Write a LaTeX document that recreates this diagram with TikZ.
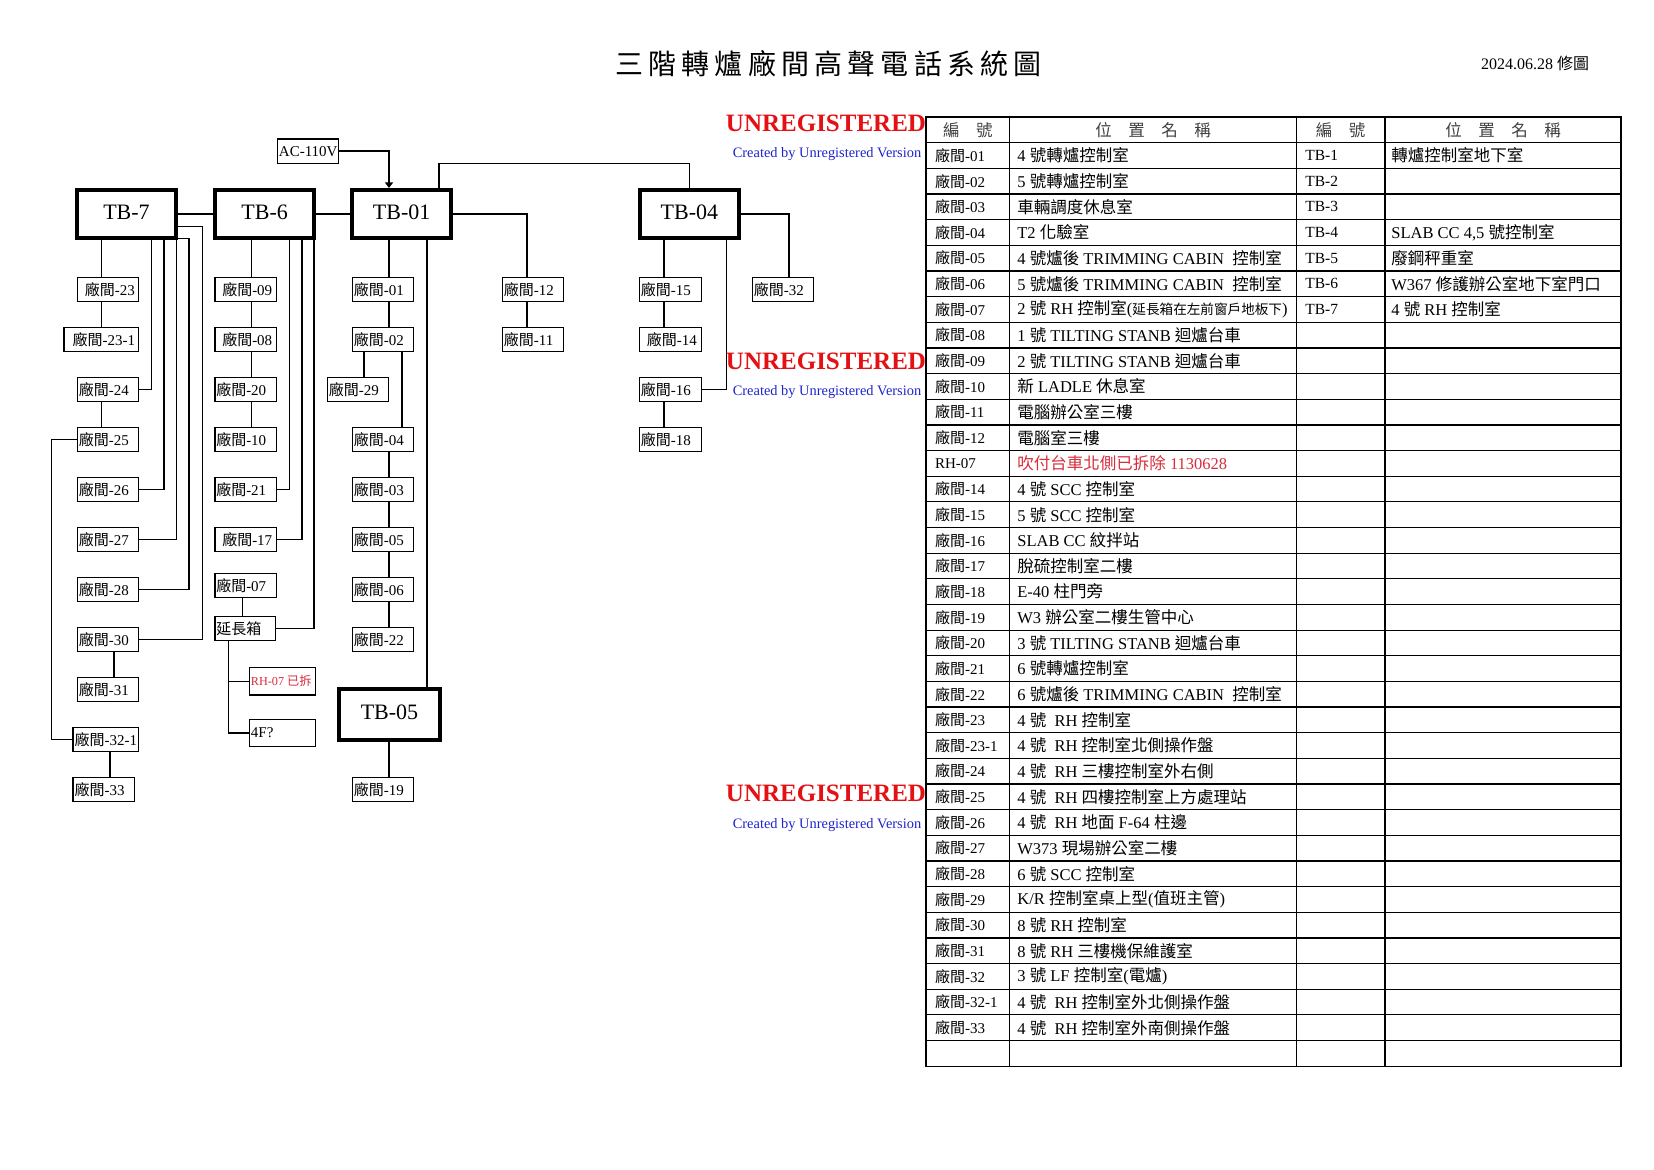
\documentclass[tikz,border=0pt]{standalone}
\usepackage{fontspec}
\setmainfont{Liberation Serif}
\newfontfamily\cjkfont{Noto Sans CJK TC}
\usetikzlibrary{arrows.meta}
\XeTeXinterchartokenstate=1
\newXeTeXintercharclass\CJKcls
\newcount\cjkc
\cjkc="2E80
\loop\XeTeXcharclass\cjkc=\CJKcls\advance\cjkc by 1 \ifnum\cjkc<"A000 \repeat
\cjkc="FF00
\loop\XeTeXcharclass\cjkc=\CJKcls\advance\cjkc by 1 \ifnum\cjkc<"FFF0 \repeat
\XeTeXinterchartoks 0 \CJKcls={\cjkfont}
\XeTeXinterchartoks 4095 \CJKcls={\cjkfont}
\XeTeXinterchartoks \CJKcls 0={\rmfamily}
\XeTeXinterchartoks \CJKcls 4095={\rmfamily}
\definecolor{wmred}{RGB}{228,16,20}
\definecolor{wmblue}{RGB}{30,36,205}
\definecolor{delred}{RGB}{215,45,60}
\newcommand\cellfont{\fontsize{7.5pt}{9pt}\selectfont}
\newcommand\tabrow[3]{%
  \node[tca] (rowa#1) at (934.6,{117.1+(#1+0.5)*25.65}) {#2};
  \node[tcb] (rowb#1) at (1017,{117.1+(#1+0.5)*25.65}) {#3};}
\newcommand\tabrowx[5]{\tabrow{#1}{#2}{#3}%
  \node[tcc] (rowc#1) at (1305,{117.1+(#1+0.5)*25.65}) {#4};
  \node[tcb] (rowd#1) at (1391,{117.1+(#1+0.5)*25.65}) {#5};}
\begin{document}
\begin{tikzpicture}[x=0.5pt,y=-0.5pt,
  wire/.style={line width=0.7pt},
  tline/.style={line width=0.6pt},
  tbbox/.style={draw,line width=2pt,inner sep=0pt,minimum width=49.5pt,minimum height=24pt,text depth=2pt,font=\fontsize{11pt}{13pt}\selectfont},
  cell/.style={draw,line width=0.75pt,anchor=north west,inner xsep=0.75pt,inner ysep=0pt,minimum height=11.9pt,font=\cellfont,
    execute at begin node={\hbox to #1\bgroup},execute at end node={\hss\egroup}},
  cell/.default=29.05pt,
  tca/.style={anchor=west,inner sep=0pt,font=\fontsize{7.5pt}{9pt}\selectfont},
  tcb/.style={anchor=west,inner sep=0pt,font=\fontsize{8.25pt}{10pt}\selectfont},
  tcc/.style={anchor=west,inner sep=0pt,font=\fontsize{7.75pt}{9pt}\selectfont},
  hdr/.style={anchor=center,inner sep=0pt,text=black!75,font=\fontsize{8.25pt}{10pt}\selectfont},
  wmbig/.style={anchor=base,inner sep=0pt,text=wmred,font=\fontsize{12.5pt}{14pt}\selectfont\bfseries},
  wmsmall/.style={anchor=base,inner sep=0pt,text=wmblue,font=\fontsize{7.2pt}{9pt}\selectfont}]
\useasboundingbox (0,0) rectangle (1654,1169);
\fill[white] (0,0) rectangle (1654,1169);

% title and date
\node[inner sep=0pt,font=\fontsize{14pt}{16pt}\selectfont] (title) at (828.5,63.5)
  {三\kern2.6pt 階\kern2.6pt 轉\kern2.6pt 爐\kern2.6pt 廠\kern2.6pt 間\kern2.6pt 高\kern2.6pt 聲\kern2.6pt 電\kern2.6pt 話\kern2.6pt 系\kern2.6pt 統\kern2.6pt 圖};
\node[inner sep=0pt,font=\fontsize{8pt}{10pt}\selectfont] (date) at (1535,63.5) {2024.06.28 修圖};

% big boxes
\node[tbbox] (tb7) at (126.5,214) {TB-7};
\node[tbbox] (tb6) at (264.7,214) {TB-6};
\node[tbbox] (tb01) at (401.7,214) {TB-01};
\node[tbbox] (tb04) at (689.4,214) {TB-04};
\node[tbbox,minimum width=50.25pt,minimum height=25.25pt] (tb05) at (389.5,714.5) {TB-05};
\node[cell=28.9pt,minimum height=12.1pt] (ac) at (276.7,138.3) {AC-110V};

% TB-7 column
\node[cell] (c23) at (76.7,276.7) {\kern3pt 廠間-23};
\node[cell=35.75pt] (c231) at (63.3,326.7) {\kern3.5pt 廠間-23-1};
\node[cell] (c24) at (76.7,376.7) {廠間-24};
\node[cell] (c25) at (76.7,426.7) {廠間-25};
\node[cell] (c26) at (76.7,476.7) {廠間-26};
\node[cell] (c27) at (76.7,526.7) {廠間-27};
\node[cell] (c28) at (76.7,576.7) {廠間-28};
\node[cell] (c30) at (76.7,626.7) {廠間-30};
\node[cell] (c31) at (76.7,676.7) {廠間-31};
\node[cell=31.25pt] (c321) at (72.3,726.7) {廠間-32-1};
\node[cell=29.25pt] (c33) at (72.3,776.7) {廠間-33};

% TB-6 column
\node[cell=29.4pt] (c09) at (214,276.7) {\kern3pt 廠間-09};
\node[cell=29.4pt] (c08) at (214,326.7) {\kern3pt 廠間-08};
\node[cell=29.4pt] (c20) at (214,376.7) {廠間-20};
\node[cell=29.4pt] (c10) at (214,426.7) {廠間-10};
\node[cell=29.4pt] (c21) at (214,476.7) {廠間-21};
\node[cell=29.4pt] (c17) at (214,526.7) {\kern3pt 廠間-17};
\node[cell=29.4pt] (c07) at (214,572.7) {廠間-07};
\node[cell=28.9pt] (cext) at (214,615.7) {延長箱};
\node[cell=31.55pt,minimum height=13.75pt,font=\fontsize{6.1pt}{7pt}\selectfont,text=delred] (crh) at (248.7,666.7) {RH-07 已拆};
\node[cell=31.55pt,minimum height=13.4pt] (c4f) at (248.7,718.7) {4F?};

% TB-01 column
\node[cell] (c01) at (351.7,276.7) {廠間-01};
\node[cell] (c02) at (351.7,326.7) {廠間-02};
\node[cell=29.1pt] (c29) at (326.7,376.7) {廠間-29};
\node[cell] (c04) at (351.7,426.7) {廠間-04};
\node[cell] (c03) at (351.7,476.7) {廠間-03};
\node[cell] (c05) at (351.7,526.7) {廠間-05};
\node[cell] (c06) at (351.7,576.7) {廠間-06};
\node[cell] (c22) at (351.7,626.7) {廠間-22};
\node[cell] (c19) at (351.7,776.7) {廠間-19};
\node[cell] (c12) at (501.7,276.7) {廠間-12};
\node[cell] (c11) at (501.7,326.7) {廠間-11};

% TB-04 column
\node[cell=29.4pt] (c15) at (638.7,276.7) {廠間-15};
\node[cell=29.4pt] (c14) at (638.7,326.7) {\kern3pt 廠間-14};
\node[cell=29.4pt] (c16) at (638.7,376.7) {廠間-16};
\node[cell=29.4pt] (c18) at (638.7,426.7) {廠間-18};
\node[cell] (c32) at (751.7,276.7) {廠間-32};

% bus positions
\coordinate (b7) at (101.7,0);
\coordinate (b24) at (151.7,0);
\coordinate (b26) at (164,0);
\coordinate (b27) at (176.7,0);
\coordinate (b28) at (189,238.3);
\coordinate (b30) at (202.3,226.7);
\coordinate (b25) at (51.7,0);
\coordinate (b30c) at (114,0);
\coordinate (b32c) at (110,0);
\coordinate (b6) at (251.7,0);
\coordinate (b21) at (289.3,0);
\coordinate (b17) at (302,0);
\coordinate (bext) at (314,0);
\coordinate (b07) at (242.7,0);
\coordinate (bext2) at (228.3,0);
\coordinate (b1) at (389,0);
\coordinate (b29) at (364,0);
\coordinate (b04) at (402,0);
\coordinate (b05) at (427,0);
\coordinate (b4top) at (439,163.5);
\coordinate (b12) at (527,0);
\coordinate (b15) at (664,0);
\coordinate (b16) at (726.7,0);
\coordinate (b32) at (789,0);

% TB-7 wiring
\draw[wire] (tb7) -- (tb6);
\draw[wire] (tb6) -- (tb01);
\draw[wire] (tb7.south -| b7) -- (c23.north -| b7);
\draw[wire] (c23.south -| b7) -- (c231.north -| b7);
\draw[wire] (tb7.south -| b24) |- (c24.east);
\draw[wire] (c24.south -| b7) -- (c25.north -| b7);
\draw[wire] (tb7.south -| b26) |- (c26.east);
\draw[wire] (tb7.south -| b27) |- (c27.east);
\draw[wire] (tb7.east |- b28) -| (b28 |- c28.east) -- (c28.east);
\draw[wire] (tb7.east |- b30) -| (b30 |- c30.east) -- (c30.east);
\draw[wire] (c25.west) -| (b25 |- c321.west) -- (c321.west);
\draw[wire] (c30.south -| b30c) -- (c31.north -| b30c);
\draw[wire] (c321.south -| b32c) -- (c33.north -| b32c);

% TB-6 wiring
\draw[wire] (tb6.south -| b6) -- (c09.north -| b6);
\draw[wire] (c09.south -| b6) -- (c08.north -| b6);
\draw[wire] (c08.south -| b6) -- (c20.north -| b6);
\draw[wire] (c20.south -| b6) -- (c10.north -| b6);
\draw[wire] (tb6.south -| b21) |- (c21.east);
\draw[wire] (tb6.south -| b17) |- (c17.east);
\draw[wire] (tb6.south -| bext) |- (cext.east);
\draw[wire] (c07.south -| b07) -- (cext.north -| b07);
\draw[wire] (cext.south -| bext2) |- (crh.west);
\draw[wire] (cext.south -| bext2) |- (c4f.west);

% TB-01 wiring
\draw[wire,-{Triangle[length=2.8pt,width=4pt]}] (ac.east) -| (tb01.north -| b1);
\draw[wire] (tb01.north -| b4top) -- (b4top) -| (tb04.north);
\draw[wire] (tb01.east) -| (b12 |- c12.north);
\draw[wire] (c12.south -| b12) -- (c11.north -| b12);
\draw[wire] (tb01.south -| b1) -- (c01.north -| b1);
\draw[wire] (c01.south -| b1) -- (c02.north -| b1);
\draw[wire] (c02.south -| b29) -- (c29.north -| b29);
\draw[wire] (c02.south -| b04) -- (c04.north -| b04);
\draw[wire] (c04.south -| b1) -- (c03.north -| b1);
\draw[wire] (c03.south -| b1) -- (c05.north -| b1);
\draw[wire] (c05.south -| b1) -- (c06.north -| b1);
\draw[wire] (c06.south -| b1) -- (c22.north -| b1);
\draw[wire] (tb01.south -| b05) -- (tb05.north -| b05);
\draw[wire] (tb05.south -| b1) -- (c19.north -| b1);

% TB-04 wiring
\draw[wire] (tb04.south -| b15) -- (c15.north -| b15);
\draw[wire] (c15.south -| b15) -- (c14.north -| b15);
\draw[wire] (tb04.south -| b16) |- (c16.east);
\draw[wire] (c16.south -| b15) -- (c18.north -| b15);
\draw[wire] (tb04.east) -| (b32 |- c32.north);

% watermarks
\node[wmbig] (wm1) at (826,131) {UNREGISTERED};
\node[wmsmall] (wm1b) at (827,157.5) {Created by Unregistered Version};
\node[wmbig] (wm2) at (826,369.5) {UNREGISTERED};
\node[wmsmall] (wm2b) at (827,395.5) {Created by Unregistered Version};
\node[wmbig] (wm3) at (826,801.5) {UNREGISTERED};
\node[wmsmall] (wm3b) at (827,828.5) {Created by Unregistered Version};

% table grid
\draw[line width=0.75pt] (926,117.1) rectangle (1621,1066.5);
\foreach \cx in {1009.5,1296.4,1385} \draw[tline] (\cx,117.1) -- (\cx,1066.5);
\foreach \i in {1,...,36} \draw[tline] (926,{117.1+\i*25.65}) -- (1621,{117.1+\i*25.65});

% header
\node[hdr] (hd1) at (967.75,129.9) {編\hspace{1em}號};
\node[hdr] (hd2) at (1153,129.9) {位\hspace{1em}置\hspace{1em}名\hspace{1em}稱};
\node[hdr] (hd3) at (1340.7,129.9) {編\hspace{1em}號};
\node[hdr] (hd4) at (1503,129.9) {位\hspace{1em}置\hspace{1em}名\hspace{1em}稱};

% table rows
\tabrowx{1}{廠間-01}{4 號轉爐控制室}{TB-1}{轉爐控制室地下室}
\tabrow{2}{廠間-02}{5 號轉爐控制室}
\node[tcc] (rowc2) at (1305,{117.1+2.5*25.65}) {TB-2};
\tabrow{3}{廠間-03}{車輛調度休息室}
\node[tcc] (rowc3) at (1305,{117.1+3.5*25.65}) {TB-3};
\tabrowx{4}{廠間-04}{T2 化驗室}{TB-4}{SLAB CC 4,5 號控制室}
\tabrowx{5}{廠間-05}{4 號爐後 TRIMMING CABIN\ \ 控制室}{TB-5}{廢鋼秤重室}
\tabrowx{6}{廠間-06}{5 號爐後 TRIMMING CABIN\ \ 控制室}{TB-6}{W367 修護辦公室地下室門口}
\tabrowx{7}{廠間-07}{2 號 RH 控制室({\fontsize{6.8pt}{8pt}\selectfont 延長箱在左前窗戶地板下})}{TB-7}{4 號 RH 控制室}
\tabrow{8}{廠間-08}{1 號 TILTING STANB 迴爐台車}
\tabrow{9}{廠間-09}{2 號 TILTING STANB 迴爐台車}
\tabrow{10}{廠間-10}{新 LADLE 休息室}
\tabrow{11}{廠間-11}{電腦辦公室三樓}
\tabrow{12}{廠間-12}{電腦室三樓}
\tabrow{13}{RH-07}{\color{delred}吹付台車北側已拆除 1130628}
\tabrow{14}{廠間-14}{4 號 SCC 控制室}
\tabrow{15}{廠間-15}{5 號 SCC 控制室}
\tabrow{16}{廠間-16}{SLAB CC 紋拌站}
\tabrow{17}{廠間-17}{脫硫控制室二樓}
\tabrow{18}{廠間-18}{E-40 柱門旁}
\tabrow{19}{廠間-19}{W3 辦公室二樓生管中心}
\tabrow{20}{廠間-20}{3 號 TILTING STANB 迴爐台車}
\tabrow{21}{廠間-21}{6 號轉爐控制室}
\tabrow{22}{廠間-22}{6 號爐後 TRIMMING CABIN\ \ 控制室}
\tabrow{23}{廠間-23}{4 號\ \ RH 控制室}
\tabrow{24}{廠間-23-1}{4 號\ \ RH 控制室北側操作盤}
\tabrow{25}{廠間-24}{4 號\ \ RH 三樓控制室外右側}
\tabrow{26}{廠間-25}{4 號\ \ RH 四樓控制室上方處理站}
\tabrow{27}{廠間-26}{4 號\ \ RH 地面 F-64 柱邊}
\tabrow{28}{廠間-27}{W373 現場辦公室二樓}
\tabrow{29}{廠間-28}{6 號 SCC 控制室}
\tabrow{30}{廠間-29}{K/R 控制室桌上型(值班主管)}
\tabrow{31}{廠間-30}{8 號 RH 控制室}
\tabrow{32}{廠間-31}{8 號 RH 三樓機保維護室}
\tabrow{33}{廠間-32}{3 號 LF 控制室(電爐)}
\tabrow{34}{廠間-32-1}{4 號\ \ RH 控制室外北側操作盤}
\tabrow{35}{廠間-33}{4 號\ \ RH 控制室外南側操作盤}
\end{tikzpicture}
\end{document}
